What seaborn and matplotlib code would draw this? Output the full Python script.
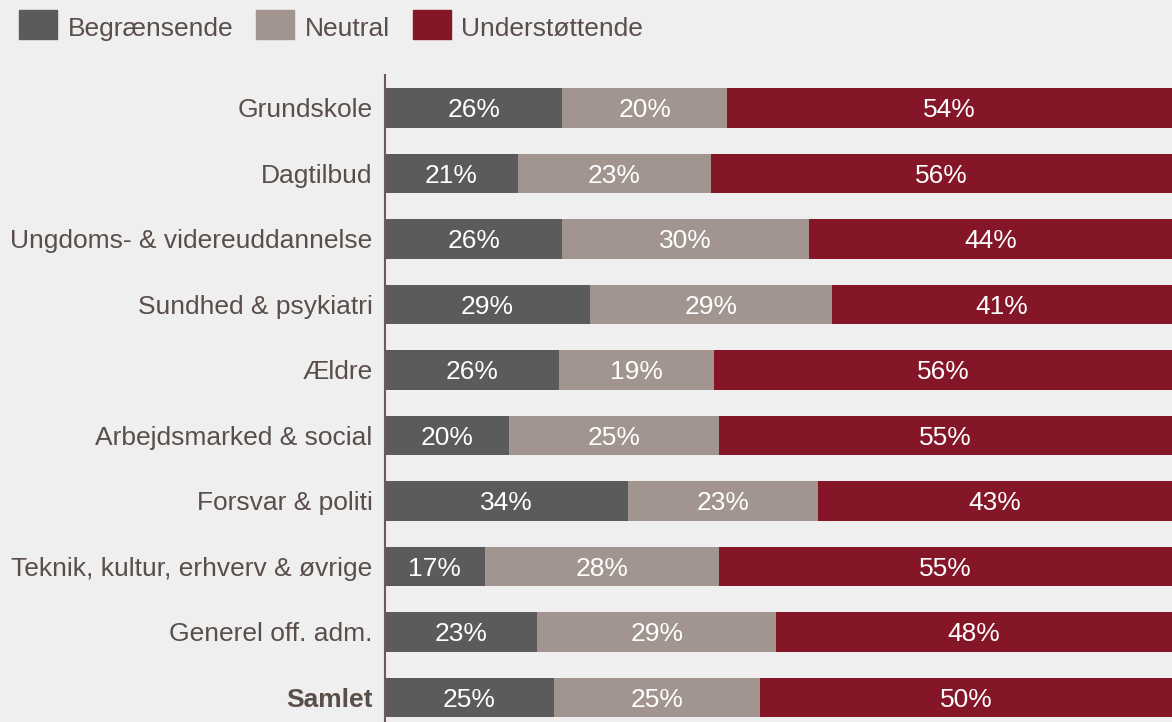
import matplotlib
matplotlib.use("Agg")
import matplotlib.pyplot as plt
import matplotlib.patches as mpatches
from matplotlib.legend_handler import HandlerPatch
import numpy as np
import pandas as pd
import seaborn as sns

# Survey shares per sector (percent)
categories = [
    "Grundskole",
    "Dagtilbud",
    "Ungdoms- & videreuddannelse",
    "Sundhed & psykiatri",
    "Ældre",
    "Arbejdsmarked & social",
    "Forsvar & politi",
    "Teknik, kultur, erhverv & øvrige",
    "Generel off. adm.",
    "Samlet",
]
begraensende = [26, 20.6, 26, 29.4, 25.6, 19.6, 34, 16.6, 23, 25]
neutral = [20, 23.4, 30, 29.4, 18.8, 25.4, 23, 28.4, 29, 25]
understoettende = [54, 56, 44, 41.2, 55.6, 55, 43, 55, 48, 50]
series_names = ["Begrænsende", "Neutral", "Understøttende"]

colors = ["#5B5B5B", "#A2948F", "#841627"]
bg = "#EFEFEF"
text_col = "#594E4A"
XMIN = 4.5
FS = 19

df = pd.DataFrame({
    "kategori": categories,
    "b": begraensende,
    "n": neutral,
    "u": understoettende,
})
df["cum1"] = df["b"]
df["cum2"] = df["b"] + df["n"]
df["cum3"] = df["b"] + df["n"] + df["u"]

sns.set_theme(style="white")
plt.rcParams["font.family"] = ["Liberation Sans", "DejaVu Sans"]

fig = plt.figure(figsize=(11.72, 7.22), dpi=100, facecolor=bg)
ax = fig.add_axes([385 / 1172, -0.0114, 1 - 385 / 1172, 0.9072])
ax.set_facecolor(bg)

# Stacked bars: draw the cumulative totals from longest to shortest
for col, c in zip(["cum3", "cum2", "cum1"], colors[::-1]):
    sns.barplot(data=df, x=col, y="kategori", order=categories, orient="h",
                color=c, width=0.6, linewidth=0, saturation=1, ax=ax)

ax.set_xlim(XMIN, 100)
ax.set_xlabel("")
ax.set_ylabel("")
ax.xaxis.set_visible(False)
for s in ["top", "right", "bottom"]:
    ax.spines[s].set_visible(False)
ax.spines["left"].set_color("#6B5A55")
ax.spines["left"].set_linewidth(1.5)

ax.tick_params(axis="y", length=0, pad=9, labelsize=FS, labelcolor=text_col)
for lbl in ax.get_yticklabels():
    if lbl.get_text() == "Samlet":
        lbl.set_fontweight("bold")

# Value labels centred within the visible part of each segment
for i in range(len(categories)):
    starts = [0, df["cum1"][i], df["cum2"][i]]
    vals = [df["b"][i], df["n"][i], df["u"][i]]
    for s0, v in zip(starts, vals):
        left = max(s0, XMIN)
        right = min(s0 + v, 100)
        ax.text((left + right) / 2, i, f"{v:.0f}%", ha="center",
                va="center_baseline", color="white", fontsize=FS)


def square_patch(legend, orig_handle, xdescent, ydescent, width, height, fontsize):
    # Legend swatch slightly taller than the text row
    return mpatches.Rectangle((-xdescent, -ydescent), width, 1.1 * fontsize)


handles = [mpatches.Patch(color=c, label=n) for c, n in zip(colors, series_names)]
fig.legend(handles=handles, loc="upper left", bbox_to_anchor=(19 / 1172, 1 - 14.5 / 722),
           ncol=3, frameon=False, fontsize=FS, labelcolor=text_col,
           handlelength=1.44, handleheight=1.057, handletextpad=0.4,
           columnspacing=0.87, borderpad=0, borderaxespad=0,
           handler_map={mpatches.Patch: HandlerPatch(patch_func=square_patch)})

fig.savefig("out.png", dpi=100, facecolor=bg)
